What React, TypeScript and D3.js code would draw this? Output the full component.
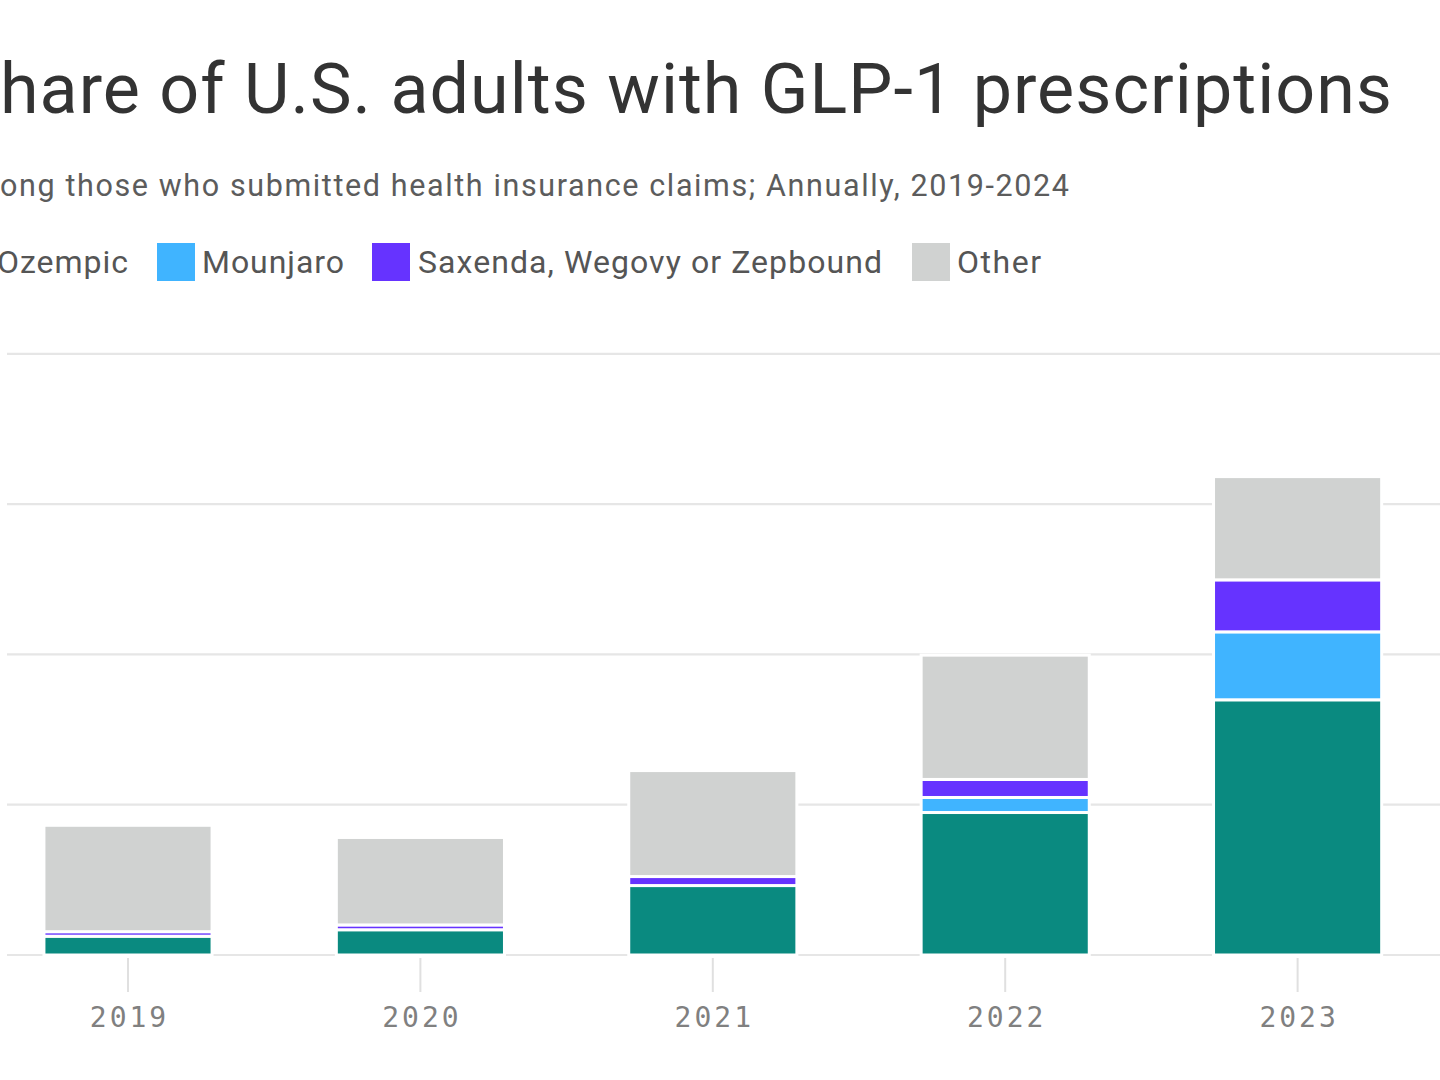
import React from "react";
import * as d3 from "d3";

const years = ["2019", "2020", "2021", "2022", "2023"];
const ozempic = [0.125, 0.168, 0.462, 0.948, 1.698];
const mounjaro = [0, 0, 0, 0.1, 0.452];
const saxenda = [0.03, 0.032, 0.06, 0.12, 0.346];
const other = [0.708, 0.582, 0.705, 0.827, 0.687];
const gridTicks = [0, 1, 2, 3, 4];

const seriesKeys = ["ozempic", "mounjaro", "saxenda", "other"];
const seriesLabels = ["Ozempic", "Mounjaro", "Saxenda, Wegovy or Zepbound", "Other"];
const seriesColors = ["#0a8a80", "#40b4ff", "#6633ff", "#d0d2d1"];

const W = 1440;
const H = 1080;

export default function App() {
  const rows = years.map((y, i) => ({
    year: y,
    ozempic: ozempic[i],
    mounjaro: mounjaro[i],
    saxenda: saxenda[i],
    other: other[i],
  }));
  const stacked = d3.stack<any>().keys(seriesKeys)(rows);

  const x = d3
    .scaleBand<string>()
    .domain(years)
    .range([-18.2, -18.2 + 5 * 292.4])
    .paddingInner(0.425)
    .paddingOuter(0.2125);
  const y = d3.scaleLinear().domain([0, 4]).range([955, 353.8]);

  const legendSw = [-48, 157, 372, 912];
  const legendTx = [-3, 202, 418, 957];
  const legendLen = [131, 142, 464, 84];

  return (
    <svg
      width={W}
      height={H}
      style={{ position: "absolute", left: 0, top: 0, display: "block", background: "#fff" }}
    >
      {/* Title */}
      <text x={-1} y={112.5} textAnchor="end" fontFamily="Roboto" fontSize={70} fill="#333">
        S
      </text>
      <text
        x={0}
        y={112.5}
        fontFamily="Roboto"
        fontSize={70}
        fill="#333"
        textLength={1392}
        lengthAdjust="spacing"
      >
        hare of U.S. adults with GLP-1 prescriptions
      </text>
      {/* Subtitle */}
      <text x={-1} y={196} textAnchor="end" fontFamily="Roboto" fontSize={30.5} fill="#5c5c5c">
        Am
      </text>
      <text
        x={0}
        y={196}
        fontFamily="Roboto"
        fontSize={30.5}
        fill="#5c5c5c"
        textLength={1069}
        lengthAdjust="spacing"
      >
        ong those who submitted health insurance claims; Annually, 2019-2024
      </text>
      {/* Legend */}
      {seriesLabels.map((lab, i) => (
        <g key={lab}>
          <rect x={legendSw[i]} y={243} width={38} height={38} fill={seriesColors[i]} />
          <text
            x={legendTx[i]}
            y={272.5}
            fontFamily="Roboto"
            fontSize={32}
            fill="#555"
            textLength={legendLen[i]}
            lengthAdjust="spacing"
          >
            {lab}
          </text>
        </g>
      ))}
      {/* Gridlines */}
      {gridTicks.map((t) => (
        <line key={t} x1={7} x2={W} y1={y(t)} y2={y(t)} stroke="#e6e6e6" strokeWidth={2.2} />
      ))}
      {/* Bars */}
      {stacked.map((s, si) => (
        <g key={s.key}>
          {s.map((d: any) =>
            d[1] - d[0] > 0 ? (
              <rect
                key={d.data.year}
                x={x(d.data.year)}
                width={x.bandwidth()}
                y={y(d[1])}
                height={y(d[0]) - y(d[1])}
                fill={seriesColors[si]}
                stroke="#fff"
                strokeWidth={3}
              />
            ) : null
          )}
        </g>
      ))}
      {/* X ticks */}
      {years.map((yr) => {
        const cx = (x(yr) as number) + x.bandwidth() / 2;
        return (
          <g key={yr}>
            <line x1={cx} x2={cx} y1={958} y2={992} stroke="#e0e0e0" strokeWidth={2} />
            <text
              x={cx + 1.5}
              y={1027}
              textAnchor="middle"
              fontFamily="DejaVu Sans Mono"
              fontSize={28}
              letterSpacing={3}
              fill="#808080"
            >
              {yr}
            </text>
          </g>
        );
      })}
    </svg>
  );
}
